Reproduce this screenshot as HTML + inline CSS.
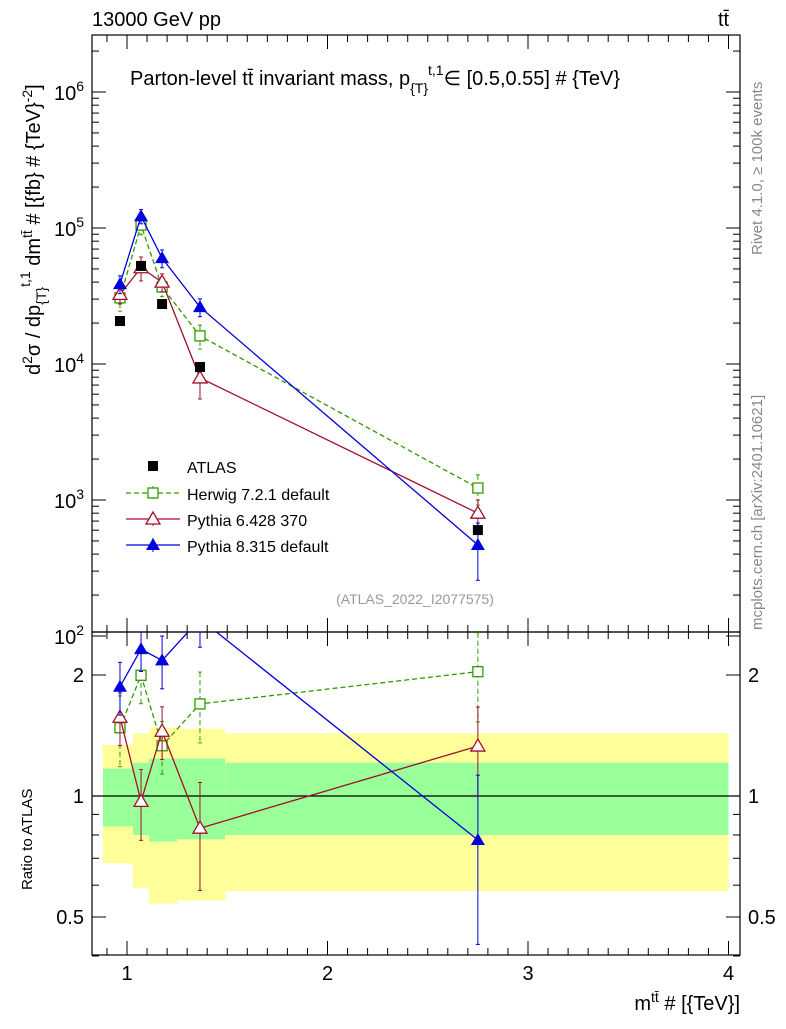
<!DOCTYPE html>
<html><head><meta charset="utf-8">
<style>
body{margin:0;background:#fff;}
svg{font-family:"Liberation Sans",sans-serif;}
</style></head>
<body>
<svg id="chart" width="786" height="1024" viewBox="0 0 786 1024" xmlns="http://www.w3.org/2000/svg">
<defs>
<clipPath id="cm"><rect x="92" y="35" width="648" height="597"/></clipPath>
<clipPath id="cr"><rect x="92" y="632" width="648" height="323"/></clipPath>
</defs>
<g id="bands" clip-path="url(#cr)"></g>
<g id="main"></g>
<text x="92" y="26" font-size="20">13000 GeV pp</text>
<text x="718" y="26" font-size="20">tt̄</text>
<text x="130" y="85" font-size="20">Parton-level tt̄ invariant mass, p<tspan font-size="14" dy="8">{T}</tspan><tspan font-size="14" dy="-18">t,1</tspan><tspan dy="10">∈ [0.5,0.55] # {TeV}</tspan></text>
<text transform="translate(40,375) rotate(-90)" font-size="20">d<tspan font-size="14" dy="-8">2</tspan><tspan dy="8">σ / dp</tspan><tspan font-size="14" dy="6">{T}</tspan><tspan font-size="14" dy="-16">t,1</tspan><tspan dy="10"> dm</tspan><tspan font-size="14" dy="-8">tt̄</tspan><tspan dy="8"> # [{fb} # {TeV}</tspan><tspan font-size="14" dy="-8">-2</tspan><tspan dy="8">]</tspan></text>
<text transform="translate(32,890) rotate(-90)" font-size="15">Ratio to ATLAS</text>
<text x="740" y="1010" font-size="20" text-anchor="end">m<tspan font-size="14" dy="-8">tt̄</tspan><tspan dy="8"> # [{TeV}]</tspan></text>
<text transform="translate(762,255) rotate(-90)" font-size="15" fill="#888">Rivet 4.1.0, ≥ 100k events</text>
<text transform="translate(762,630) rotate(-90)" font-size="15" fill="#888">mcplots.cern.ch [arXiv:2401.10621]</text>
<text x="415" y="604" font-size="14" fill="#999" text-anchor="middle">(ATLAS_2022_I2077575)</text>
</svg>
<script>
const xs=[0.965,1.07,1.175,1.364,2.75];
const atlas=[20700,52600,27600,9500,601];
const herwig=[30600,105000,36800,16100,1225];
const herwigErr=[0.2,0.15,0.15,0.2,0.25];
const py6=[32500,51000,40000,7900,800];
const py6Err=[0.15,0.2,0.15,0.3,0.25];
const py8=[38700,122000,60000,26200,467];
const py8Err=[0.15,0.12,0.15,0.15,0.45];
const binEdges=[0.88,1.03,1.11,1.25,1.49,4.0];
const yelHi=[1.34,1.43,1.48,1.47,1.43];
const yelLo=[0.68,0.59,0.54,0.55,0.58];
const grnHi=[1.17,1.21,1.24,1.24,1.21];
const grnLo=[0.84,0.80,0.77,0.78,0.80];
const xTicks=[1,2,3,4];

const NS="http://www.w3.org/2000/svg";
const svg=document.getElementById('chart');
const X=v=>127+(v-1)*200.5;
const Y=v=>92+(6-Math.log10(v))*136;
const R=v=>796-Math.log10(v)*402;
function mk(tag,at,parent){const e=document.createElementNS(NS,tag);for(const k in at)e.setAttribute(k,at[k]);(parent||svg).appendChild(e);return e;}

const bg=document.getElementById('bands');
for(let i=0;i<5;i++){
 const x0=X(binEdges[i]),x1=X(binEdges[i+1]);
 const y=mk('rect',{x:x0,y:R(yelHi[i]),width:x1-x0,height:R(yelLo[i])-R(yelHi[i]),fill:'#ffff99'},bg);
 
 
 const g=mk('rect',{x:x0,y:R(grnHi[i]),width:x1-x0,height:R(grnLo[i])-R(grnHi[i]),fill:'#99ff99'},bg);
 
 
}
mk('line',{x1:92,x2:740,y1:R(1),y2:R(1),stroke:'#000','stroke-width':1.2});

const f1=mk('rect',{x:92,y:35,width:648,height:597,fill:'none',stroke:'#000','stroke-width':1.2});


const f2=mk('rect',{x:92,y:632,width:648,height:323,fill:'none',stroke:'#000','stroke-width':1.2});



for(let v=0.9;v<=4.01;v+=0.1){
 const x=X(v),major=Math.abs(v-Math.round(v))<0.01;
 const L=major?14:7;
 mk('line',{x1:x,x2:x,y1:632,y2:632-L,stroke:'#000'});
 mk('line',{x1:x,x2:x,y1:955,y2:955-L,stroke:'#000'});
 mk('line',{x1:x,x2:x,y1:35,y2:35+L,stroke:'#000'});
 mk('line',{x1:x,x2:x,y1:632,y2:632+L,stroke:'#000'});
}
xTicks.forEach(v=>{const t=mk('text',{x:X(v),y:980,'font-size':20,'text-anchor':'middle'});t.textContent=v;
 
 });

for(let d=2;d<=6;d++){
 for(let m=1;m<10;m++){
  const v=m*Math.pow(10,d),y=Y(v);if(y<35)continue;
  const L=m==1?14:7;
  mk('line',{x1:92,x2:92+L,y1:y,y2:y,stroke:'#000'});
  mk('line',{x1:740,x2:740-L,y1:y,y2:y,stroke:'#000'});
 }
 const t=mk('text',{x:84,y:Y(Math.pow(10,d))+8,'font-size':20,'text-anchor':'end'});
 t.innerHTML='10<tspan font-size="14" dy="-9">'+d+'</tspan>';
 
 
}
[0.4,0.5,0.6,0.7,0.8,0.9,1,2].forEach(v=>{const y=R(v),L=(v==1||v==2||v==0.5)?14:7;
 mk('line',{x1:92,x2:92+L,y1:y,y2:y,stroke:'#000'});mk('line',{x1:740,x2:740-L,y1:y,y2:y,stroke:'#000'});});
[[0.5,'0.5'],[1,'1'],[2,'2']].forEach(([v,s])=>{
 const a=mk('text',{x:84,y:R(v)+7,'font-size':20,'text-anchor':'end'});a.textContent=s;
 
 
 const b=mk('text',{x:748,y:R(v)+7,'font-size':20});b.textContent=s;
 
 });

function marker(type,x,y,col,parent){
 if(type=='fsq')return mk('rect',{x:x-5,y:y-5,width:10,height:10,fill:'#000'},parent);
 if(type=='osq')return mk('rect',{x:x-5,y:y-5,width:10,height:10,fill:'#fff',stroke:col,'stroke-width':1.3},parent);
 if(type=='otri')return mk('polygon',{points:`${x},${y-7} ${x-7},${y+5} ${x+7},${y+5}`,fill:'#fff',stroke:col,'stroke-width':1.3},parent);
 return mk('polygon',{points:`${x},${y-7} ${x-7},${y+5} ${x+7},${y+5}`,fill:col},parent);
}
function errbar(x,y1,y2,col,dash,parent){
 mk('line',{x1:x,x2:x,y1:y1,y2:y2,stroke:col,'stroke-dasharray':dash},parent);
 mk('line',{x1:x-2,x2:x+2,y1:y1,y2:y1,stroke:col},parent);
 mk('line',{x1:x-2,x2:x+2,y1:y2,y2:y2,stroke:col},parent);
}
const series=[
 {name:'herwig',vals:herwig,err:herwigErr,col:'#339900',dash:'5,3',m:'osq'},
 {name:'pythia6',vals:py6,err:py6Err,col:'#a0102a',dash:'',m:'otri'},
 {name:'pythia8',vals:py8,err:py8Err,col:'#0000dd',dash:'',m:'ftri'}];
const gm=mk('g',{'clip-path':'url(#cm)'});
const gr=mk('g',{'clip-path':'url(#cr)'});
series.forEach(s=>{
 const pts=xs.map((x,i)=>X(x)+','+Y(s.vals[i])).join(' ');
 const l=mk('polyline',{points:pts,fill:'none',stroke:s.col,'stroke-width':1.3,'stroke-dasharray':s.dash},gm);
 
 
 const rp=xs.map((x,i)=>X(x)+','+R(s.vals[i]/atlas[i])).join(' ');
 const rl=mk('polyline',{points:rp,fill:'none',stroke:s.col,'stroke-width':1.3,'stroke-dasharray':s.dash},gr);
 
 
 xs.forEach((x,i)=>{
  const v=s.vals[i],e=s.err[i],r=v/atlas[i];
  errbar(X(x),Y(v*(1+e)),Y(v*(1-e)),s.col,s.dash,gm);
  errbar(X(x),R(r*(1+e)),R(r*(1-e)),s.col,s.dash,gr);
  const p=marker(s.m,X(x),Y(v),s.col,gm);
  
  
  const q=marker(s.m,X(x),R(r),s.col,gr);
  
  
 });
});
xs.forEach((x,i)=>{const p=marker('fsq',X(x),Y(atlas[i]),'#000',gm);
 
 });

const leg=[['fsq','#000','','ATLAS',466],['osq','#339900','5,3','Herwig 7.2.1 default',493],['otri','#a0102a','','Pythia 6.428 370',519],['ftri','#0000dd','','Pythia 8.315 default',545]];
leg.forEach(([m,c,d,t,y])=>{
 const g=mk('g',{});
 
 
 if(m!='fsq'){mk('line',{x1:126,x2:180,y1:y,y2:y,stroke:c,'stroke-width':1.3,'stroke-dasharray':d},g);
  mk('line',{x1:153,x2:153,y1:y-7,y2:y+7,stroke:c,'stroke-dasharray':d},g);}
 marker(m,153,y,c,g);
 const tx=mk('text',{x:187,y:y+7,'font-size':16},g);tx.textContent=t;
});
</script>
</body></html>
